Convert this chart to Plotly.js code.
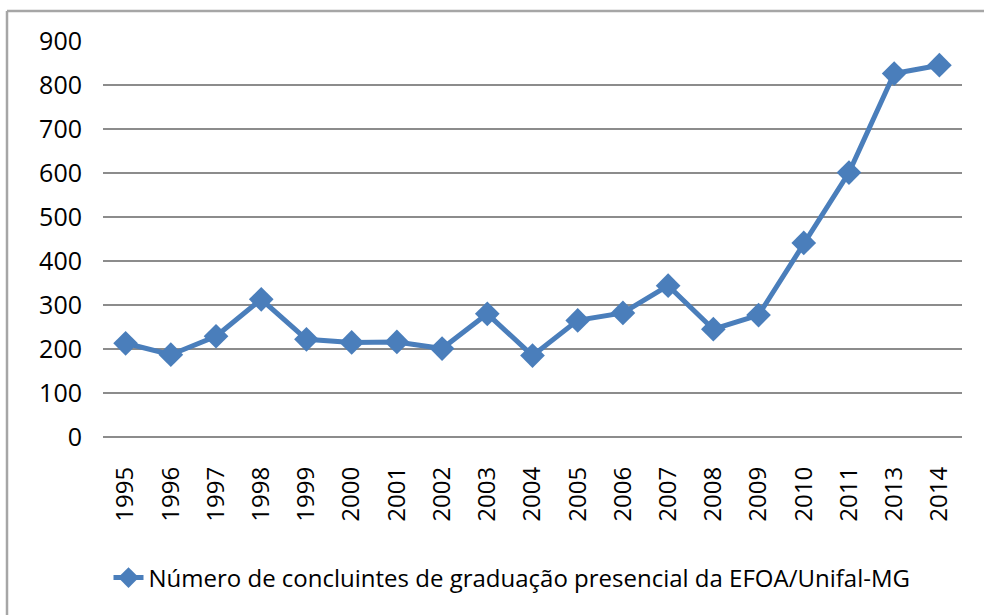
<!DOCTYPE html>
<html>
<head>
<meta charset="utf-8">
<script src="https://cdn.plot.ly/plotly-3.0.1.min.js"></script>
<style>
  html, body { margin: 0; padding: 0; background: #fff; }
  #chart { width: 984px; height: 615px; }
</style>
</head>
<body>
<div id="chart"></div>
<script>
const years = ["1995","1996","1997","1998","1999","2000","2001","2002","2003","2004",
               "2005","2006","2007","2008","2009","2010","2011","2013","2014"];
const concluintes = [213, 187, 229, 313, 222, 215, 216, 201, 280, 185,
                     265, 282, 344, 245, 277, 441, 601, 826, 845];
const seriesName = "Número de concluintes de graduação presencial da EFOA/Unifal-MG";
const yTicks = [0, 100, 200, 300, 400, 500, 600, 700, 800, 900];

const lineColor = "#4A7EBB";
const font = "Open Sans, Liberation Sans, sans-serif";

const trace = {
  type: "scatter",
  mode: "lines+markers",
  x: years,
  y: concluintes,
  name: seriesName,
  line: { color: lineColor, width: 5 },
  marker: { symbol: "diamond", size: 19, color: lineColor }
};

// plot area in pixels: x 103..962, y 41..437
const L = 103, R = 22, T = 41, B = 178, W = 984, H = 615;
const pw = W - L - R, ph = H - T - B;
const px = v => (v - L) / pw;
const py = v => (H - B - v) / ph;

const layout = {
  width: W, height: H,
  margin: { l: L, r: R, t: T, b: B, pad: 0 },
  paper_bgcolor: "#ffffff",
  plot_bgcolor: "#ffffff",
  font: { family: font, color: "#000000", size: 24 },
  showlegend: true,
  legend: {
    orientation: "h",
    x: px(512), xanchor: "center",
    y: py(578), yanchor: "middle",
    font: { family: font, size: 24, color: "#000" }
  },
  xaxis: {
    type: "category",
    range: [-0.5, years.length - 0.5],
    tickangle: -90,
    ticks: "",
    showgrid: false,
    showline: false,
    zeroline: false,
    tickfont: { family: font, size: 24, color: "#000" },
    ticklabelstandoff: 24
  },
  yaxis: {
    range: [0, 900],
    tickvals: yTicks,
    ticktext: yTicks.map(String),
    showgrid: true,
    gridcolor: "#8c8c8c",
    gridwidth: 1.5,
    zeroline: true,
    zerolinecolor: "#8c8c8c",
    zerolinewidth: 1.5,
    showline: false,
    ticks: "",
    tickfont: { family: font, size: 25, color: "#000" },
    ticklabelstandoff: 20
  },
  shapes: [
    { type: "line", xref: "paper", yref: "paper",
      x0: px(7), x1: px(1000), y0: py(11), y1: py(11),
      line: { color: "#a6a6a6", width: 2.5 } },
    { type: "line", xref: "paper", yref: "paper",
      x0: px(7), x1: px(7), y0: py(11), y1: py(630),
      line: { color: "#a6a6a6", width: 2.5 } }
  ]
};

Plotly.newPlot("chart", [trace], layout, { displayModeBar: false, staticPlot: true });
</script>
</body>
</html>
